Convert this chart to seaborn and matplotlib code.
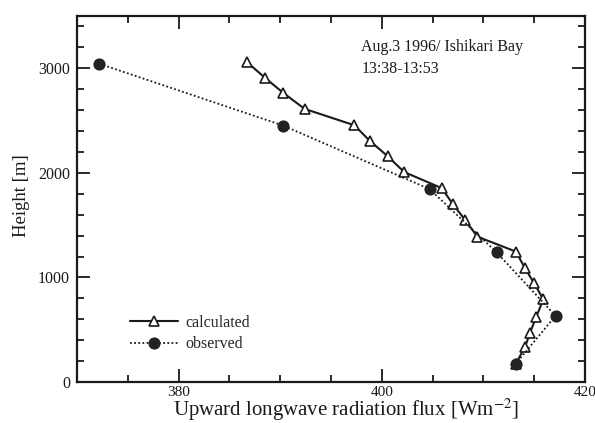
import matplotlib
matplotlib.use("Agg")
import matplotlib.pyplot as plt
from matplotlib.ticker import MultipleLocator
import pandas as pd
import seaborn as sns

# Calculated profile (flux in W m^-2, height in m)
calc_flux = [386.7, 388.5, 390.3, 392.4, 397.3, 398.8, 400.6, 402.2, 405.9, 407.0,
             408.2, 409.4, 413.2, 414.1, 415.0, 415.9, 415.2, 414.6, 414.1, 413.2]
calc_height = [3062, 2909, 2765, 2612, 2455, 2308, 2157, 2008, 1854, 1700,
               1550, 1390, 1247, 1087, 943, 790, 623, 473, 336, 176]

# Observed profile
obs_flux = [372.2, 390.3, 404.7, 411.3, 417.1, 413.2]
obs_height = [3043, 2452, 1845, 1240, 633, 176]

x_ticks = [380, 400, 420]
y_ticks = [0, 1000, 2000, 3000]

sns.set_theme(style="ticks")
plt.rcParams["font.family"] = ["Liberation Serif", "DejaVu Serif"]
plt.rcParams["mathtext.fontset"] = "stix"

calc = pd.DataFrame({"flux": calc_flux, "height": calc_height})
obs = pd.DataFrame({"flux": obs_flux, "height": obs_height})

fig = plt.figure(figsize=(5.95, 4.23), dpi=100)
ax = fig.add_axes([77 / 595, 1 - 382 / 423, (585 - 77) / 595, (382 - 16) / 423])

sns.lineplot(data=calc, x="flux", y="height", sort=False, estimator=None,
             color="#1a1a1a", linewidth=1.5, marker="^", markersize=6.5,
             markerfacecolor="white", markeredgecolor="#1a1a1a", markeredgewidth=1.2,
             label="calculated", ax=ax)
sns.lineplot(data=obs, x="flux", y="height", sort=False, estimator=None,
             color="#1a1a1a", linewidth=1.3, linestyle=(0, (1, 1.3)), marker="o",
             markersize=8, markerfacecolor="#222222", markeredgecolor="#222222",
             label="observed", ax=ax)

ax.set_xlim(370, 420)
ax.set_ylim(0, 3500)
ax.set_xticks(x_ticks)
ax.set_yticks(y_ticks)
ax.xaxis.set_minor_locator(MultipleLocator(5))
ax.yaxis.set_minor_locator(MultipleLocator(200))
ax.tick_params(which="both", direction="in", top=True, right=True,
               labelsize=11.5, width=1.3, colors="#1a1a1a")
ax.tick_params(which="major", length=9.5, pad=5)
ax.tick_params(axis="x", which="major", pad=3, labelsize=11)
ax.tick_params(which="minor", length=5)
for s in ax.spines.values():
    s.set_linewidth(1.6)
    s.set_color("#1a1a1a")

ax.set_xlabel(r"Upward longwave radiation flux [Wm$^{-2}$]", fontsize=15, color="#1a1a1a")
ax.xaxis.set_label_coords(0.53, -0.092)
ax.xaxis.label.set_va("baseline")
ax.set_ylabel("Height [m]", fontsize=13.5, color="#1a1a1a")
ax.yaxis.set_label_coords(-0.11, 0.51)
ax.yaxis.label.set_va("center")

ax.text(0.56, 0.915, "Aug.3 1996/ Ishikari Bay", transform=ax.transAxes,
        fontsize=11.5, color="#1a1a1a", va="center")
ax.text(0.56, 0.855, "13:38-13:53", transform=ax.transAxes,
        fontsize=11.5, color="#1a1a1a", va="center")

leg = ax.legend(loc="lower left", bbox_to_anchor=(0.085, 0.055), frameon=False,
                fontsize=11.5, handlelength=3.0, handletextpad=0.5, labelspacing=0.35,
                borderaxespad=0.2)

fig.savefig("out.png", dpi=100, facecolor="white")
